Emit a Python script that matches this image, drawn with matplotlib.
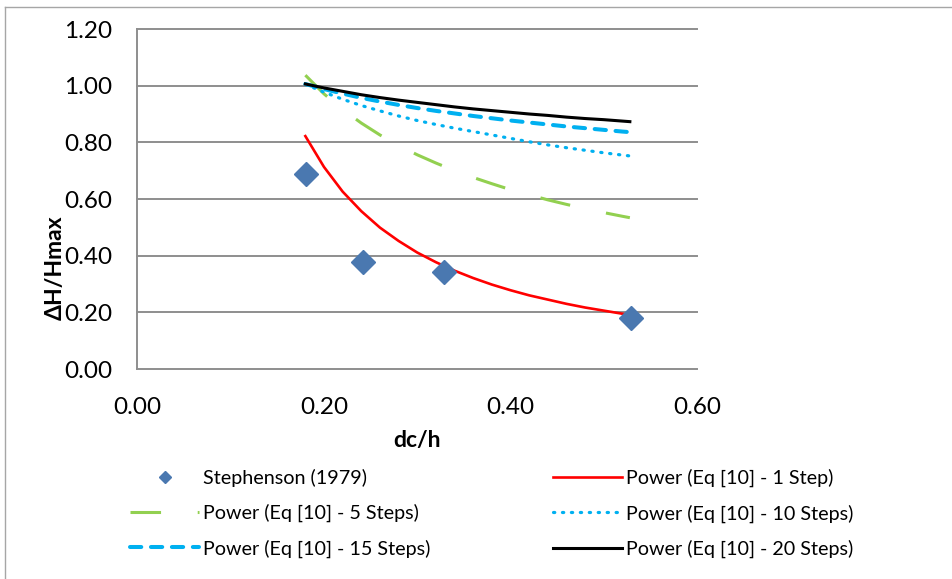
import matplotlib
matplotlib.use("Agg")
import matplotlib.pyplot as plt
from matplotlib.lines import Line2D

plt.rcParams['font.family'] = ['Lato', 'DejaVu Sans']

################## DATA ##################
# measured points
steph_x = [0.181, 0.2415, 0.3287, 0.529]
steph_y = [0.688, 0.377, 0.343, 0.181]

trend_x = [0.18, 0.20, 0.22, 0.24, 0.26, 0.28, 0.30, 0.32, 0.34, 0.36,
           0.38, 0.40, 0.42, 0.44, 0.46, 0.48, 0.50, 0.52, 0.528]
step1 = [0.822, 0.713, 0.626, 0.557, 0.499, 0.452, 0.411, 0.377, 0.347, 0.321,
         0.298, 0.278, 0.260, 0.245, 0.230, 0.217, 0.206, 0.195, 0.191]
step5 = [1.037, 0.971, 0.916, 0.868, 0.826, 0.789, 0.756, 0.727, 0.700, 0.676,
         0.654, 0.633, 0.615, 0.597, 0.581, 0.566, 0.552, 0.539, 0.534]
step10 = [1.005, 0.977, 0.952, 0.930, 0.911, 0.893, 0.877, 0.863, 0.850, 0.838,
          0.826, 0.814, 0.802, 0.791, 0.781, 0.772, 0.763, 0.755, 0.752]
step15 = [1.006, 0.988, 0.972, 0.957, 0.944, 0.932, 0.921, 0.911, 0.902, 0.893,
          0.885, 0.877, 0.870, 0.863, 0.856, 0.850, 0.844, 0.838, 0.836]
step20 = [1.006, 0.992, 0.980, 0.968, 0.958, 0.949, 0.941, 0.933, 0.925, 0.918,
          0.912, 0.906, 0.900, 0.895, 0.889, 0.884, 0.880, 0.875, 0.873]

labels = ["Stephenson (1979)", "Power (Eq [10] - 1 Step)",
          "Power (Eq [10] - 5 Steps)", "Power (Eq [10] - 10 Steps)",
          "Power (Eq [10] - 15 Steps)", "Power (Eq [10] - 20 Steps)"]
xticks = [0.0, 0.2, 0.4, 0.6]
yticks = [0.0, 0.2, 0.4, 0.6, 0.8, 1.0, 1.2]

################## PLOT ##################
W, H = 953, 579
fig = plt.figure(figsize=(W / 100, H / 100), dpi=100)
ax = fig.add_axes([137.5 / W, 1 - 369 / H, (697 - 137.5) / W, (369 - 29) / H])

grid_c = "#8e8e8e"
for yv in yticks[1:]:
    ax.axhline(yv, color=grid_c, lw=1.4, zorder=1, clip_on=False)

h_st, = ax.plot(steph_x, steph_y, ls="none", marker="D", ms=12.5,
                color="#4A78B0", zorder=5)
h1, = ax.plot(trend_x, step1, color="#FF0000", lw=1.9, zorder=4)
h5, = ax.plot(trend_x, step5, color="#92D050", lw=2.2, dashes=(10, 12), zorder=3)
h10, = ax.plot(trend_x, step10, color="#00B0F0", lw=2.3, dashes=(0.4, 2.4),
               dash_capstyle="round", zorder=3)
h15, = ax.plot(trend_x, step15, color="#00B0F0", lw=2.9, dashes=(2.8, 2.4),
               dash_capstyle="round", zorder=3)
h20, = ax.plot(trend_x, step20, color="black", lw=2.2, zorder=4)

ax.set_xlim(0, 0.6)
ax.set_ylim(0, 1.2)
ax.set_xticks(xticks)
ax.set_yticks(yticks)
ax.set_xticklabels([f"{v:.2f}" for v in xticks])
ax.set_yticklabels([f"{v:.2f}" for v in yticks])
ax.tick_params(length=0, labelsize=17.5, colors="black")
ax.tick_params(axis="y", pad=18)
ax.tick_params(axis="x", pad=20)
for s in ["top", "right"]:
    ax.spines[s].set_visible(False)
for s in ["left", "bottom"]:
    ax.spines[s].set_color(grid_c)
    ax.spines[s].set_linewidth(1.4)

fig.text(55 / W, 1 - 268 / H, "ΔH/Hmax", rotation=90, ha="center",
         va="center", fontsize=16.5, fontweight="bold")
fig.text(417 / W, 1 - 440 / H, "dc/h", ha="center", va="center",
         fontsize=16.5, fontweight="bold")

# legend, filled column by column
handles = [h_st, h5, h15, h1, h10, h20]
order = [labels[0], labels[2], labels[4], labels[1], labels[3], labels[5]]
fig.legend(handles, order, loc="upper left",
           bbox_to_anchor=(130 / W, 1 - 469 / H), ncol=2, frameon=False,
           fontsize=14.2, handlelength=3.5, handletextpad=0.2,
           columnspacing=6.2, labelspacing=0.86, borderpad=0,
           borderaxespad=0, markerscale=0.5)

# outer chart border (left and top only visible)
fig.add_artist(Line2D([5 / W, 5 / W], [0, 1 - 7 / H], color="#a6a6a6",
                      lw=1, transform=fig.transFigure))
fig.add_artist(Line2D([5 / W, 1], [1 - 7 / H, 1 - 7 / H], color="#a6a6a6",
                      lw=1, transform=fig.transFigure))

fig.savefig("out.png", dpi=100)
